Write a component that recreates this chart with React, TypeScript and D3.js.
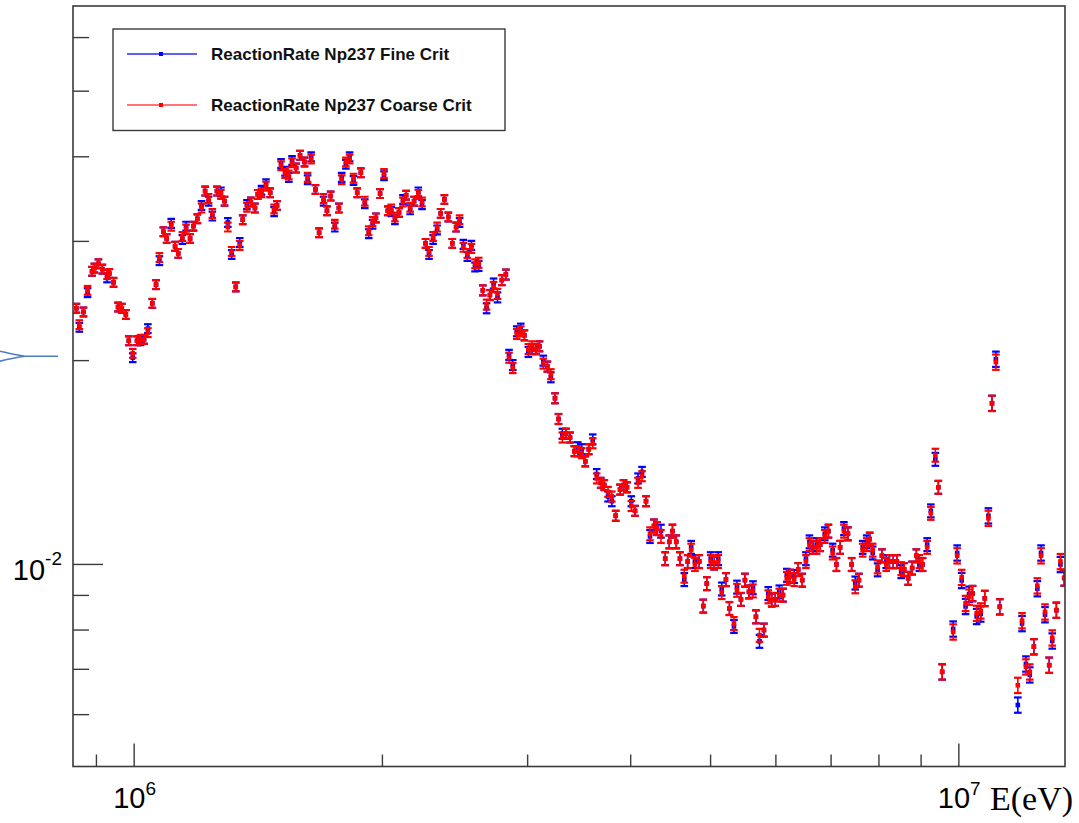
import React from "react";
import * as d3 from "d3";

// Bin energies (MeV) shared by both series
const energyMeV = [
  0.851, 0.858, 0.868, 0.878, 0.889, 0.895, 0.905, 0.915, 0.927, 0.933,
  0.944, 0.956, 0.966, 0.977, 0.985, 0.996, 1.008, 1.018, 1.028, 1.039,
  1.052, 1.063, 1.073, 1.085, 1.095, 1.109, 1.121, 1.131, 1.144, 1.156,
  1.169, 1.18, 1.193, 1.207, 1.219, 1.231, 1.244, 1.26, 1.274, 1.287,
  1.299, 1.313, 1.328, 1.343, 1.354, 1.37, 1.385, 1.401, 1.412, 1.427,
  1.445, 1.462, 1.478, 1.49, 1.507, 1.524, 1.54, 1.554, 1.572, 1.589,
  1.609, 1.623, 1.639, 1.659, 1.676, 1.697, 1.713, 1.731, 1.751, 1.771,
  1.785, 1.806, 1.825, 1.845, 1.864, 1.883, 1.904, 1.925, 1.946, 1.964,
  1.987, 2.009, 2.03, 2.05, 2.071, 2.095, 2.118, 2.137, 2.161, 2.185,
  2.211, 2.234, 2.256, 2.278, 2.304, 2.33, 2.353, 2.378, 2.404, 2.431,
  2.457, 2.481, 2.507, 2.535, 2.564, 2.59, 2.617, 2.647, 2.675, 2.7,
  2.728, 2.758, 2.791, 2.823, 2.848, 2.878, 2.91, 2.943, 2.973, 3.006,
  3.037, 3.071, 3.101, 3.134, 3.17, 3.201, 3.238, 3.27, 3.305, 3.339,
  3.377, 3.418, 3.451, 3.489, 3.524, 3.558, 3.598, 3.638, 3.679, 3.716,
  3.755, 3.795, 3.836, 3.883, 3.921, 3.959, 4.007, 4.049, 4.083, 4.129,
  4.175, 4.222, 4.269, 4.305, 4.353, 4.405, 4.455, 4.495, 4.543, 4.59,
  4.646, 4.69, 4.736, 4.786, 4.844, 4.899, 4.947, 5.001, 5.051, 5.108,
  5.158, 5.219, 5.27, 5.337, 5.382, 5.442, 5.503, 5.565, 5.628, 5.675,
  5.731, 5.803, 5.873, 5.931, 5.989, 6.057, 6.119, 6.185, 6.245, 6.314,
  6.386, 6.458, 6.525, 6.589, 6.654, 6.723, 6.791, 6.877, 6.948, 7.03,
  7.105, 7.179, 7.255, 7.337, 7.413, 7.488, 7.565, 7.645, 7.731, 7.796,
  7.862, 7.97, 8.067, 8.164, 8.237, 8.325, 8.411, 8.513, 8.584, 8.681,
  8.778, 8.881, 8.956, 9.037, 9.153, 9.248, 9.365, 9.444, 9.545, 9.842,
  9.953, 10.08, 10.19, 10.29, 10.39, 10.51, 10.63, 10.75, 10.86, 10.97,
  11.09, 11.21, 11.79, 11.93, 12.06, 12.19, 12.33, 12.45, 12.58, 12.72,
  12.87, 12.98, 13.13, 13.28, 13.42,
];

// Reaction rate, fine mesh (units of 1e-3)
const fineRate = [
  23.9, 22.4, 23.6, 25.2, 27.1, 27.4, 27.8, 27.3, 26.5, 26.9,
  26.1, 24.0, 23.9, 23.4, 21.4, 20.2, 21.4, 21.4, 21.5, 22.3,
  24.3, 25.9, 28.1, 31.0, 30.3, 31.9, 29.5, 28.8, 30.2, 31.6,
  30.3, 31.6, 32.4, 33.9, 35.6, 34.4, 32.7, 35.6, 35.5, 34.4,
  32.0, 28.7, 25.7, 29.9, 32.3, 34.0, 34.3, 33.6, 35.2, 35.7,
  36.5, 35.4, 33.2, 33.9, 39.1, 38.1, 37.3, 39.5, 38.5, 40.2,
  39.3, 37.0, 40.0, 35.8, 30.9, 34.4, 33.3, 35.0, 31.5, 33.6,
  37.3, 39.0, 40.0, 36.9, 35.4, 37.9, 34.1, 30.8, 31.8, 32.5,
  35.3, 37.5, 33.3, 33.2, 32.3, 33.1, 34.6, 35.1, 33.4, 34.4,
  35.5, 34.0, 29.8, 28.7, 30.2, 31.2, 33.0, 34.6, 32.6, 29.8,
  31.5, 32.0, 29.7, 28.5, 29.6, 27.5, 27.6, 25.4, 23.9, 25.0,
  26.0, 24.8, 26.3, 26.8, 20.4, 19.7, 22.1, 22.3, 21.8, 20.6,
  20.8, 20.8, 21.0, 20.0, 19.6, 18.9, 17.6, 16.4, 15.6, 15.6,
  15.4, 14.7, 14.9, 14.8, 14.2, 14.8, 15.3, 13.6, 13.2, 13.1,
  12.6, 12.4, 11.8, 12.9, 13.1, 13.0, 12.4, 12.0, 13.4, 13.7,
  12.4, 11.0, 11.4, 11.3, 11.2, 10.2, 10.8, 11.2, 10.8, 10.2,
  9.50, 10.1, 10.6, 10.1, 10.1, 8.68, 9.37, 10.2, 10.05, 10.2,
  9.20, 9.50, 8.61, 8.10, 9.26, 8.88, 9.48, 9.11, 9.24, 8.37,
  7.70, 8.00, 9.06, 8.86, 8.88, 9.11, 9.01, 9.64, 9.61, 9.60,
  9.83, 9.48, 10.2, 10.8, 10.6, 10.7, 10.7, 11.1, 11.2, 10.5,
  10.0, 10.6, 11.3, 11.1, 10.0, 9.39, 9.48, 10.6, 10.8, 10.9,
  10.4, 9.82, 10.3, 10.1, 10.1, 10.1, 10.1, 9.76, 9.83, 9.54,
  9.88, 10.3, 10.0, 10.0, 10.7, 12.0, 14.3, 13.0, 6.94, 8.03,
  10.4, 9.47, 8.67, 9.04, 9.06, 8.38, 8.45, 8.91, 11.8, 17.3,
  20.1, 8.66, 6.20, 8.18, 7.13, 6.87, 7.56, 9.21, 10.4, 8.43,
  7.10, 7.71, 8.56, 10.0, 9.55,
];

// Reaction rate, coarse mesh (units of 1e-3)
const coarseRate = [
  23.9, 22.6, 23.6, 25.4, 27.1, 27.4, 27.8, 27.3, 26.8, 26.9,
  26.1, 24.0, 23.9, 23.4, 21.4, 20.5, 21.4, 21.5, 21.5, 22.0,
  24.3, 25.9, 28.4, 31.0, 30.3, 31.6, 29.5, 28.8, 30.5, 31.3,
  30.3, 31.6, 32.4, 33.6, 35.6, 34.7, 33.0, 35.6, 35.2, 34.4,
  31.5, 29.0, 25.7, 29.6, 32.3, 33.7, 34.3, 33.6, 35.2, 35.4,
  36.2, 35.4, 33.5, 33.9, 38.8, 37.8, 37.6, 39.2, 38.5, 40.2,
  39.3, 37.3, 39.7, 35.8, 30.9, 34.7, 33.3, 35.0, 31.8, 33.6,
  37.0, 39.3, 39.7, 37.2, 35.4, 37.9, 34.4, 31.1, 32.1, 32.5,
  35.3, 37.8, 33.3, 33.5, 32.6, 33.1, 34.3, 35.1, 33.7, 34.4,
  35.2, 34.3, 29.8, 29.0, 30.5, 31.5, 33.0, 34.6, 32.6, 29.8,
  31.5, 32.3, 29.4, 28.8, 29.3, 27.8, 27.9, 25.4, 24.2, 25.0,
  25.7, 25.1, 26.3, 26.8, 20.2, 19.5, 21.9, 22.1, 21.8, 20.8,
  21.0, 20.8, 21.0, 19.8, 19.6, 19.1, 17.6, 16.4, 15.4, 15.6,
  15.4, 14.7, 14.7, 14.6, 14.2, 14.8, 15.1, 13.4, 13.2, 13.1,
  12.8, 12.6, 11.8, 12.9, 13.1, 13.0, 12.2, 12.0, 13.2, 13.5,
  12.4, 11.1, 11.4, 11.3, 11.0, 10.2, 10.8, 11.2, 10.8, 10.2,
  9.61, 10.1, 10.5, 10.0, 10.1, 8.68, 9.37, 10.1, 10.05, 10.1,
  9.09, 9.50, 8.61, 8.18, 9.16, 8.88, 9.48, 9.11, 9.14, 8.37,
  7.86, 8.00, 8.96, 8.86, 8.88, 9.01, 9.01, 9.54, 9.61, 9.50,
  9.83, 9.48, 10.1, 10.7, 10.6, 10.6, 10.7, 11.0, 11.2, 10.4,
  10.0, 10.6, 11.2, 11.1, 10.0, 9.27, 9.48, 10.5, 10.7, 10.9,
  10.5, 9.92, 10.3, 10.0, 10.1, 10.1, 10.1, 9.86, 9.83, 9.54,
  9.88, 10.3, 10.1, 10.0, 10.6, 11.9, 14.5, 13.0, 6.94, 7.95,
  10.3, 9.57, 8.76, 8.95, 9.06, 8.47, 8.54, 8.91, 11.7, 17.3,
  19.9, 8.66, 6.63, 8.26, 7.06, 6.94, 7.56, 9.30, 10.3, 8.51,
  7.10, 7.79, 8.56, 10.1, 9.55,
];

// Statistical uncertainty (percent) by energy band, upper edges in MeV
const errBandEdgesMeV = [2.6, 4.2, 9.5, 20];
const errBandPct = [1.5, 1.7, 2.2, 2.6];

const xMajorTicks = [1e6, 1e7];
const xMinorTicks = [9e5, 2e6, 3e6, 4e6, 5e6, 6e6, 7e6, 8e6, 9e6];
const yMajorTicks = [1e-2];
const yMinorTicks = [6e-3, 7e-3, 8e-3, 9e-3, 2e-2, 3e-2, 4e-2, 5e-2, 6e-2];

const seriesNames = ["ReactionRate Np237 Fine Crit", "ReactionRate Np237 Coarse Crit"];
const seriesColors = ["#0000ff", "#ff0000"];
const legendLineColors = ["#2a2aff", "#ff4646"];

const W = 1079;
const H = 823;
const FX0 = 73;
const FX1 = 1065;
const FY0 = 6;
const FY1 = 766.5;
const AXIS = "#3a3a3a";

function relErr(eMeV: number): number {
  let i = errBandEdgesMeV.findIndex((b) => eMeV <= b);
  if (i < 0) i = errBandPct.length - 1;
  return errBandPct[i] / 100;
}

function Power({ x, y, exp, size, supSize, dy, anchor }: any) {
  return (
    <text x={x} y={y} fontFamily="'Liberation Sans', Arial, sans-serif" fontSize={size} fill="#000" textAnchor={anchor || "start"}>
      10
      <tspan dy={dy} fontSize={supSize}>{exp}</tspan>
    </text>
  );
}

export default function App() {
  const x = d3.scaleLog().domain([8.43e5, 1.345e7]).range([FX0, FX1]);
  const y = d3.scaleLog().domain([5.03e-3, 0.0668]).range([FY1, FY0]);

  const series = [fineRate, coarseRate].map((vals) =>
    vals.map((v, i) => {
      const e = energyMeV[i] * 1e6;
      const val = v * 1e-3;
      return { e, v: val, err: val * relErr(energyMeV[i]) };
    })
  );

  const capW = 3.8;
  const mk = 2.3;
  const yMark = y(0.0203);

  return (
    <svg
      width={W}
      height={H}
      viewBox={`0 0 ${W} ${H}`}
      style={{ position: "absolute", left: 0, top: 0, background: "#fff" }}
    >
      <defs>
        <clipPath id="frameClip">
          <rect x={FX0} y={FY0} width={FX1 - FX0} height={FY1 - FY0} />
        </clipPath>
      </defs>
      <rect x={0} y={0} width={W} height={H} fill="#fff" />

      {/* data: fine drawn first, coarse on top */}
      <g clipPath="url(#frameClip)">
        {series.map((pts, k) => (
          <g key={k} stroke={seriesColors[k]} fill={seriesColors[k]}>
            {pts.map((d, i) => {
              const cx = x(d.e);
              const cy = y(d.v);
              const yt = y(d.v + d.err);
              const yb = y(d.v - d.err);
              return (
                <g key={i}>
                  <line x1={cx} x2={cx} y1={yt} y2={yb} strokeWidth={1.6} />
                  <line x1={cx - capW} x2={cx + capW} y1={yt} y2={yt} strokeWidth={2.2} />
                  <line x1={cx - capW} x2={cx + capW} y1={yb} y2={yb} strokeWidth={2.2} />
                  <rect x={cx - mk} y={cy - mk} width={mk * 2} height={mk * 2} stroke="none" />
                </g>
              );
            })}
          </g>
        ))}
      </g>

      {/* frame */}
      <rect x={FX0} y={FY0} width={FX1 - FX0} height={FY1 - FY0} fill="none" stroke={AXIS} strokeWidth={1.6} />

      {/* y ticks */}
      {yMinorTicks.map((t) => (
        <line key={`ym${t}`} x1={FX0} x2={FX0 + 16} y1={y(t)} y2={y(t)} stroke={AXIS} strokeWidth={1.4} />
      ))}
      {yMajorTicks.map((t) => (
        <line key={`yM${t}`} x1={FX0} x2={FX0 + 30} y1={y(t)} y2={y(t)} stroke={AXIS} strokeWidth={1.4} />
      ))}
      {/* x ticks */}
      {xMinorTicks.map((t) => (
        <line key={`xm${t}`} x1={x(t)} x2={x(t)} y1={FY1} y2={FY1 - 12} stroke={AXIS} strokeWidth={1.4} />
      ))}
      {xMajorTicks.map((t) => (
        <line key={`xM${t}`} x1={x(t)} x2={x(t)} y1={FY1} y2={FY1 - 23} stroke={AXIS} strokeWidth={1.4} />
      ))}

      {/* tick labels */}
      {yMajorTicks.map((t) => (
        <Power key={`yl${t}`} x={62} y={y(t) + 15.5} exp={String(Math.round(Math.log10(t)))} size={29} supSize={19} dy={-15} anchor="end" />
      ))}
      {xMajorTicks.map((t) => (
        <Power key={`xl${t}`} x={x(t) - 21} y={808} exp={String(Math.round(Math.log10(t)))} size={29} supSize={19} dy={-13} />
      ))}
      <text x={990} y={810} fontFamily="'Liberation Serif', 'Times New Roman', serif" fontSize={34} fill="#000">
        E(eV)
      </text>

      {/* side marker */}
      <path
        d={`M0,${yMark - 5} Q14,${yMark - 1.5} 25,${yMark} L58,${yMark} M0,${yMark + 5} Q14,${yMark + 1.5} 25,${yMark}`}
        fill="none"
        stroke="#4a7fc0"
        strokeWidth={1.7}
      />

      {/* legend */}
      <rect x={113} y={29} width={392} height={101.5} fill="#fff" stroke={AXIS} strokeWidth={1.4} />
      {seriesNames.map((name, k) => {
        const ly = 54 + k * 51;
        return (
          <g key={name}>
            <line x1={127} x2={197} y1={ly} y2={ly} stroke={legendLineColors[k]} strokeWidth={1.5} />
            <rect x={161 - 2} y={ly - 2} width={4} height={4} fill={seriesColors[k]} />
            <text x={211} y={ly + 5.5} fontFamily="'Liberation Sans', Arial, sans-serif" fontWeight="bold" fontSize={17} fill="#111">
              {name}
            </text>
          </g>
        );
      })}
    </svg>
  );
}
